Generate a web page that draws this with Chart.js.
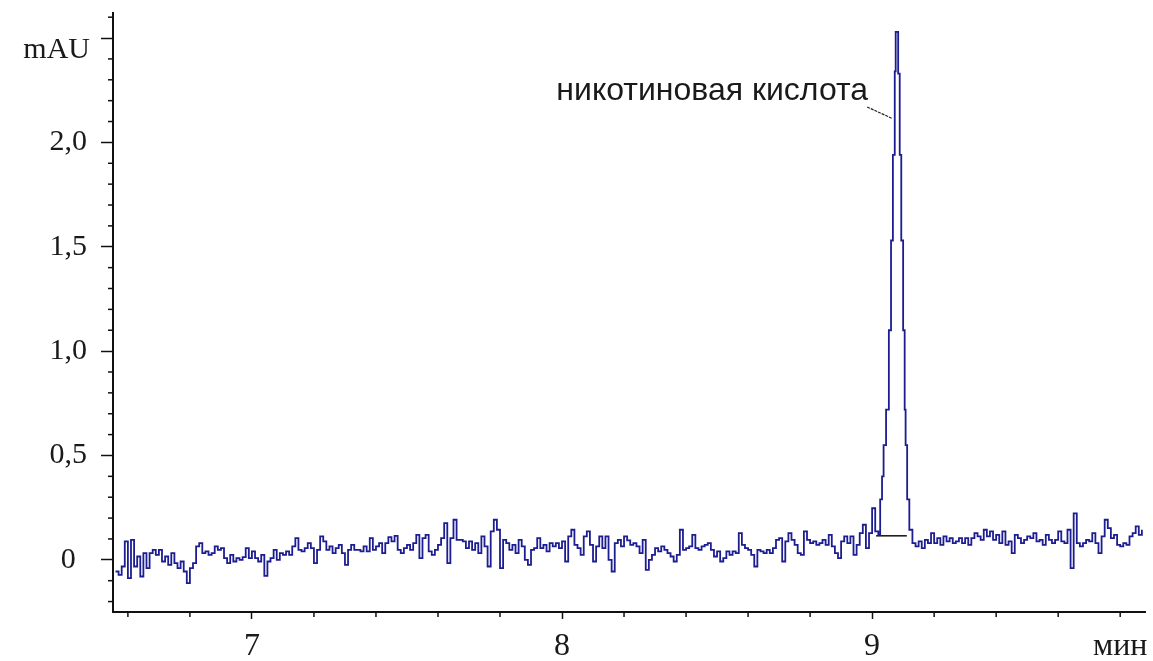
<!DOCTYPE html>
<html>
<head>
<meta charset="utf-8">
<script src="https://cdn.jsdelivr.net/npm/chart.js@4.4.0/dist/chart.umd.min.js"></script>
<style>
body { margin: 0; background: #fff; }
#wrap { position: relative; width: 1153px; height: 661px; }
</style>
</head>
<body>
<div id="wrap"><canvas id="myChart"></canvas></div>
<script>
// time grid of the baseline parts (min)
var startBefore = 6.56;
var startAfter = 9.12;
var sampleStep = 0.01;

// detector signal, mAU
var signalBefore = [
    -0.056, -0.072, -0.032, 0.088, -0.088, 0.096, -0.032, 0.016, -0.08, 0.032,
    -0.04, 0.032, 0.048, 0.024, 0.048, -0.008, 0.016, -0.024, 0.032, -0.016,
    -0.04, -0.008, -0.056, -0.112, -0.04, -0.016, 0.064, 0.08, 0.032, 0.04,
    0.024, 0.032, 0.064, 0.048, 0.056, 0.008, -0.016, 0.024, -0.008, 0.008,
    0, 0.013, 0.056, 0.008, 0.04, 0.008, -0.008, 0.024, -0.077, -0.008,
    0.008, 0.048, 0, 0.032, 0.024, 0.04, 0.024, 0.064, 0.104, 0.048,
    0.04, 0.056, 0.08, 0.056, -0.016, 0.048, 0.112, 0.088, 0.048, 0.064,
    0.032, 0.056, 0.072, 0.032, -0.024, 0.048, 0.072, 0.048, 0.048, 0.04,
    0.064, 0.04, 0.104, 0.048, 0.064, 0.08, 0.032, 0.08, 0.109, 0.088,
    0.115, 0.048, 0.032, 0.056, 0.072, 0.048, 0.08, 0.12, 0.008, 0.104,
    0.12, 0.04, 0.024, 0.048, 0.072, 0.104, 0.176, -0.016, 0.104, 0.192,
    0.096, 0.096, 0.088, 0.056, 0.088, 0.048, 0.08, 0.032, 0.112, 0.064,
    -0.032, 0.136, 0.192, 0.144, -0.04, 0.096, 0.08, 0.048, 0.072, 0.032,
    0.096, 0.064, 0, -0.024, 0.048, 0.056, 0.104, 0.056, 0.072, 0.04,
    0.08, 0.064, 0.08, 0.056, 0.088, -0.008, 0.112, 0.144, 0.072, 0.056,
    0.024, 0.112, 0.136, 0.072, -0.008, 0.064, 0.112, 0.056, 0.112, 0,
    -0.056, 0.08, 0.096, 0.064, 0.112, 0.093, 0.072, 0.08, 0.064, 0.032,
    0.096, -0.048, 0, 0.024, 0.056, 0.04, 0.064, 0.048, 0.032, 0.016,
    -0.008, 0.024, 0.144, 0.048, 0.056, 0.064, 0.12, 0.056, 0.048, 0.064,
    0.072, 0.08, 0.048, 0.016, 0.04, -0.008, 0.008, 0.04, 0.024, 0.04,
    0.032, 0.128, 0.072, 0.056, 0.048, 0.024, -0.032, 0.048, 0.04, 0.032,
    0.048, 0.032, 0.056, 0.096, 0.104, -0.008, 0.088, 0.128, 0.096, 0.072,
    0.032, 0.024, 0.136, 0.096, 0.08, 0.088, 0.072, 0.08, 0.096, 0.072,
    0.12, 0.064, 0.032, 0.008, 0.088, 0.112, 0.08, 0.112, 0.024, 0.072,
    0.128, 0.168, 0.056, 0.128, 0.247, 0.136, 0.12
];
var peakTimes = [9.026, 9.032, 9.037, 9.045, 9.054, 9.061, 9.067, 9.073, 9.076,
    9.084, 9.089, 9.094, 9.100, 9.105, 9.108, 9.113];
var peakSignal = [0.29, 0.40, 0.55, 0.72, 1.10, 1.53, 1.94, 2.34, 2.53,
    2.33, 1.94, 1.53, 1.10, 0.72, 0.55, 0.29];
var signalAfter = [
    0.144, 0.08, 0.064, 0.088, 0.056, 0.096, 0.08, 0.128, 0.08, 0.104,
    0.072, 0.112, 0.088, 0.104, 0.08, 0.088, 0.104, 0.08, 0.104, 0.072,
    0.104, 0.128, 0.112, 0.096, 0.144, 0.112, 0.136, 0.096, 0.12, 0.08,
    0.136, 0.072, 0.088, 0.032, 0.12, 0.104, 0.08, 0.096, 0.112, 0.104,
    0.128, 0.088, 0.096, 0.072, 0.12, 0.096, 0.08, 0.096, 0.136, 0.088,
    0.08, 0.144, -0.04, 0.223, 0.08, 0.064, 0.08, 0.096, 0.088, 0.128,
    0.08, 0.032, 0.112, 0.192, 0.152, 0.104, 0.12, 0.072, 0.064, 0.08,
    0.072, 0.112, 0.128, 0.16, 0.12, 0.144
];

// peak integration baseline and label leader
var baselineTimes = [9.013, 9.112];
var baselineSignal = [0.115, 0.115];
var leaderTimes = [8.984, 9.064];
var leaderSignal = [2.17, 2.115];
var peakName = 'никотиновая кислота';
var peakNameAt = [8.987, 2.245];

// axes
var xTickValues = [7, 8, 9, 9.8];
var xTickLabels = ['7', '8', '9', 'мин'];
var xLongTicks = [7, 8, 9];
var yTickValues = [0, 0.5, 1, 1.5, 2];
var yTickLabels = ['0', '0,5', '1,0', '1,5', '2,0'];
var yUnit = 'mAU';
var yUnitAt = 2.5;

function findIn(v, list) {
    for (var i = 0; i < list.length; i++) {
        if (Math.abs(list[i] - v) < 1e-6) return i;
    }
    return -1;
}
function onStep(v, n) {
    return Math.abs(v * n - Math.round(v * n)) < 1e-6;
}

var trace = [];
signalBefore.forEach(function (v, i) { trace.push({x: startBefore + i * sampleStep, y: v}); });
peakTimes.forEach(function (t, i) { trace.push({x: t, y: peakSignal[i]}); });
signalAfter.forEach(function (v, i) { trace.push({x: startAfter + i * sampleStep, y: v}); });

var yLong = yTickValues.concat([yUnitAt]);

var extras = {
    id: 'extras',
    afterDraw: function (chart) {
        var c = chart.ctx, xs = chart.scales.x, ys = chart.scales.y;
        c.save();
        c.strokeStyle = '#111';
        c.lineWidth = 1.5;
        // short minor ticks
        ys.ticks.forEach(function (t) {
            if (findIn(t.value, yLong) >= 0) return;
            var py = ys.getPixelForValue(t.value);
            c.beginPath(); c.moveTo(ys.right - 5, py); c.lineTo(ys.right, py); c.stroke();
        });
        xs.ticks.forEach(function (t) {
            if (findIn(t.value, xLongTicks) >= 0) return;
            var px = xs.getPixelForValue(t.value);
            c.beginPath(); c.moveTo(px, xs.top); c.lineTo(px, xs.top + 5); c.stroke();
        });
        // unit of y
        c.fillStyle = '#1a1a1a';
        c.font = '30px "Liberation Serif"';
        c.textAlign = 'right';
        c.textBaseline = 'middle';
        c.fillText(yUnit, 90, ys.getPixelForValue(yUnitAt) + 12);
        // peak name
        c.font = '32px "Liberation Sans"';
        c.fillText(peakName, xs.getPixelForValue(peakNameAt[0]), ys.getPixelForValue(peakNameAt[1]));
        c.restore();
    }
};

var ctx = document.getElementById('myChart').getContext('2d');
var chart = new Chart(ctx, {
    type: 'line',
    data: {
        datasets: [{
            data: trace,
            borderColor: '#1d1d92',
            borderWidth: 1.8,
            stepped: true,
            pointRadius: 0,
            fill: false
        }, {
            data: baselineTimes.map(function (t, i) { return {x: t, y: baselineSignal[i]}; }),
            borderColor: '#111',
            borderWidth: 1.5,
            pointRadius: 0
        }, {
            data: leaderTimes.map(function (t, i) { return {x: t, y: leaderSignal[i]}; }),
            borderColor: '#222',
            borderWidth: 1.2,
            borderDash: [3, 1],
            pointRadius: 0
        }]
    },
    plugins: [extras],
    options: {
        responsive: true,
        maintainAspectRatio: false,
        animation: false,
        layout: { padding: { top: 13, right: 8, left: 0, bottom: 0 } },
        plugins: { legend: { display: false }, tooltip: { enabled: false } },
        scales: {
            x: {
                type: 'linear',
                min: 6.552,
                max: 9.88,
                afterBuildTicks: function (scale) {
                    scale.ticks = scale.ticks.filter(function (t) { return onStep(t.value, 5); });
                },
                afterFit: function (scale) {
                    scale.height = 49;
                    scale.paddingLeft = 0; scale.paddingRight = 0;
                },
                ticks: {
                    stepSize: 0.2,
                    includeBounds: false,
                    autoSkip: false,
                    maxRotation: 0,
                    padding: 8,
                    color: '#1a1a1a',
                    font: { family: 'Liberation Serif', size: 32 },
                    callback: function (v) {
                        var i = findIn(v, xTickValues);
                        return i >= 0 ? xTickLabels[i] : '';
                    }
                },
                grid: {
                    drawOnChartArea: false,
                    tickLength: 7,
                    tickWidth: 1.5,
                    tickColor: function (c) {
                        return c.tick && findIn(c.tick.value, xLongTicks) >= 0 ? '#111' : 'rgba(0,0,0,0)';
                    }
                },
                border: { color: '#111', width: 2 }
            },
            y: {
                min: -0.25,
                max: 2.62,
                afterBuildTicks: function (scale) {
                    scale.ticks = scale.ticks.filter(function (t) { return onStep(t.value, 10); });
                },
                afterFit: function (scale) {
                    scale.width = 113;
                    scale.paddingTop = 0; scale.paddingBottom = 0;
                },
                ticks: {
                    stepSize: 0.1,
                    includeBounds: false,
                    autoSkip: false,
                    crossAlign: 'center',
                    padding: 14,
                    color: '#1a1a1a',
                    font: { family: 'Liberation Serif', size: 30 },
                    callback: function (v) {
                        var i = findIn(v, yTickValues);
                        return i >= 0 ? yTickLabels[i] : '';
                    }
                },
                grid: {
                    drawOnChartArea: false,
                    tickLength: 12,
                    tickWidth: 1.5,
                    tickColor: function (c) {
                        return c.tick && findIn(c.tick.value, yLong) >= 0 ? '#111' : 'rgba(0,0,0,0)';
                    }
                },
                border: { color: '#111', width: 2 }
            }
        }
    }
});
</script>
</body>
</html>
